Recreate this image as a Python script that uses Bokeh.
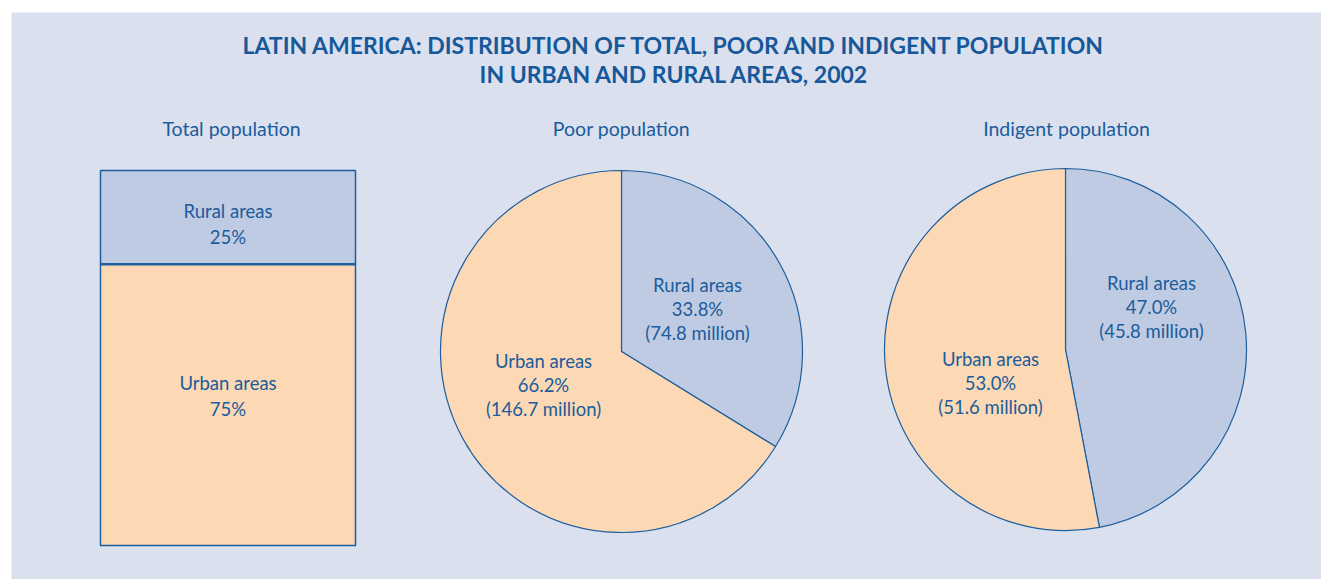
import math
from bokeh.plotting import figure
from bokeh.models import Range1d
from bokeh.core.properties import value
from bokeh.embed import file_html
from bokeh.resources import INLINE

# ---- data ----
title_lines = ["LATIN AMERICA: DISTRIBUTION OF TOTAL, POOR AND INDIGENT POPULATION",
               "IN URBAN AND RURAL AREAS, 2002"]
panel_titles = ["Total population", "Poor population", "Indigent population"]
areas = ["Rural areas", "Urban areas"]
total_pct = [25, 75]
poor_pct = [33.8, 66.2]
poor_millions = [74.8, 146.7]
indigent_pct = [47.0, 53.0]
indigent_millions = [45.8, 51.6]

# ---- style ----
W, H = 1321, 579
BG = "#dae0ee"
RURAL = "#bfcbe2"
URBAN = "#fcd9b4"
EDGE = "#1c5e9e"
TXT = "#1a5c9c"
FONT = value("Lato")


def X(px):
    return px


def Y(py):
    return H - py


p = figure(width=W, height=H, output_backend="svg", toolbar_location=None,
           x_range=Range1d(0, W), y_range=Range1d(0, H), min_border=0)
p.axis.visible = False
p.grid.visible = False
p.outline_line_color = None
p.background_fill_color = "white"
p.border_fill_color = "white"

# panel background
p.quad(left=X(11), right=W, bottom=0, top=Y(12), fill_color=BG, line_color=None)

# title
p.text(x=[X(674), X(674)], y=[Y(44), Y(73)], text=title_lines, text_font=FONT,
       text_font_style="bold", text_font_size="23px", text_color="#165899",
       text_align="center", text_baseline="middle")

# panel titles
p.text(x=[X(231), X(621), X(1066)], y=[Y(128)] * 3, text=panel_titles, text_font=FONT,
       text_font_size="19.5px", text_color=TXT, text_align="center", text_baseline="middle")

# ---- stacked box for total population ----
bx0, bx1, by_top, by_bot = X(100), X(355), Y(170), Y(545)
bh = by_top - by_bot
rural_bottom = by_top - bh * total_pct[0] / 100.0
p.quad(left=[bx0, bx0], right=[bx1, bx1],
       top=[by_top, rural_bottom], bottom=[rural_bottom, by_bot],
       fill_color=[RURAL, URBAN], line_color=EDGE, line_width=1.5)
p.segment(x0=bx0, x1=bx1, y0=rural_bottom, y1=rural_bottom, line_color=EDGE, line_width=2.5)
for i, cy in enumerate([Y(223), Y(395)]):
    p.text(x=[(bx0 + bx1) / 2] * 2, y=[cy + 13, cy - 13],
           text=[areas[i], f"{total_pct[i]}%"], text_font=FONT, text_font_size="18.5px",
           text_color=TXT, text_align="center", text_baseline="middle")


# ---- pies ----
def pie(cx, cy, r, pcts, mills, label_pos):
    start = math.pi / 2
    angles = []
    for v in pcts:
        end = start - 2 * math.pi * v / 100.0
        angles.append((start, end))
        start = end
    p.wedge(x=[cx] * 2, y=[cy] * 2, radius=r,
            start_angle=[a[0] for a in angles], end_angle=[a[1] for a in angles],
            direction="clock", fill_color=[RURAL, URBAN], line_color=EDGE, line_width=1.2)
    for i, (lx, ly) in enumerate(label_pos):
        p.text(x=[lx] * 3, y=[ly + 24, ly, ly - 24],
               text=[areas[i], f"{pcts[i]:.1f}%", f"({mills[i]:.1f} million)"],
               text_font=FONT, text_font_size="18.5px", text_color=TXT,
               text_align="center", text_baseline="middle")


pie(X(621), Y(351), 181, poor_pct, poor_millions,
    [(X(697), Y(308)), (X(543), Y(384))])
pie(X(1065), Y(349), 181, indigent_pct, indigent_millions,
    [(X(1151), Y(306)), (X(990), Y(382))])

open("out.html", "w").write(file_html(p, INLINE))
